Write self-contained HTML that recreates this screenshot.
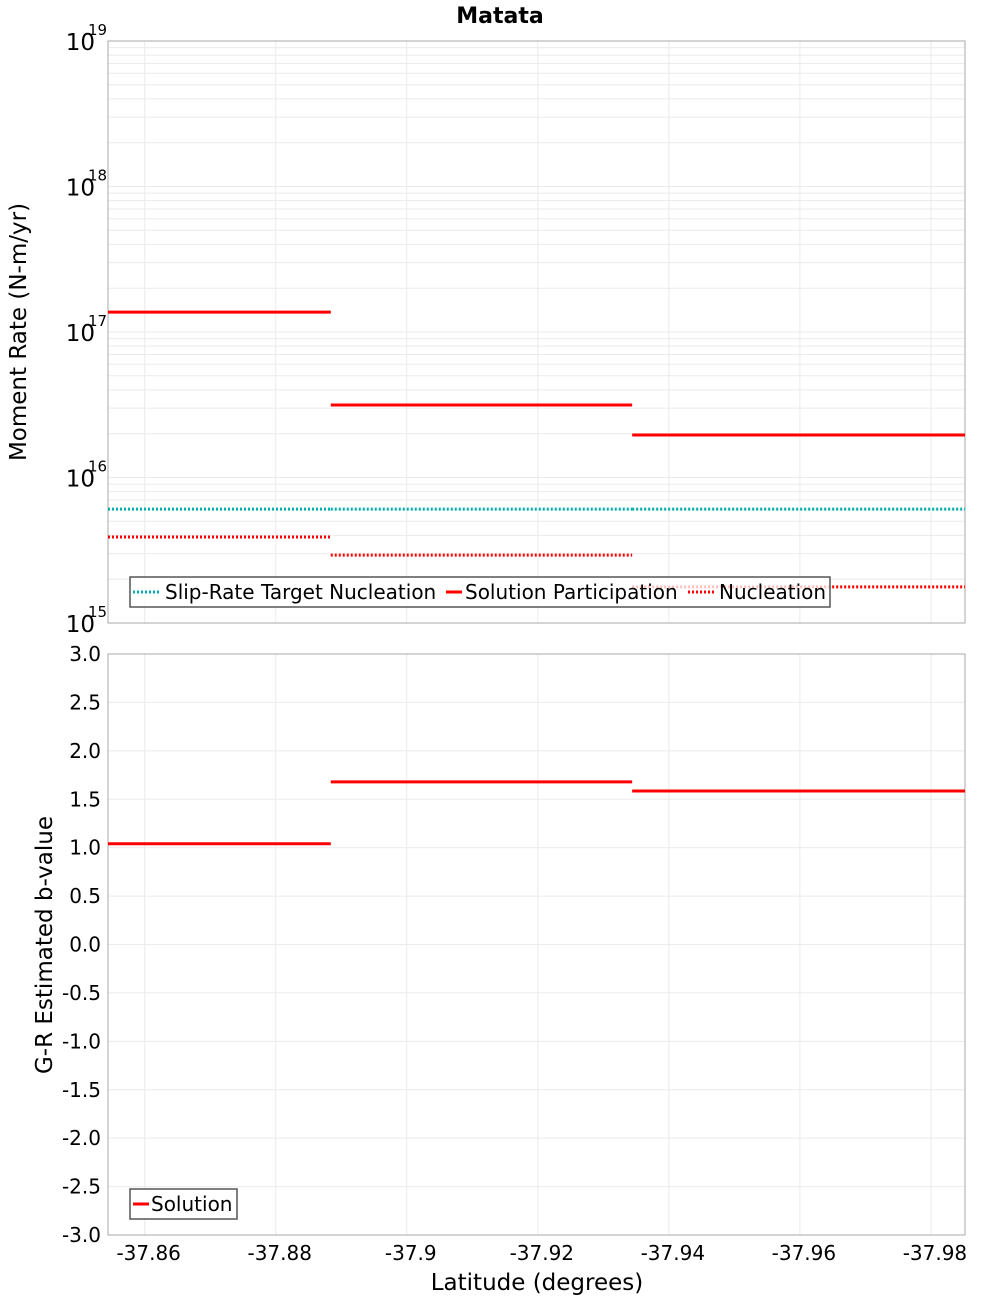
<!DOCTYPE html>
<html><head><meta charset="utf-8"><style>
body{margin:0;background:#fff;}
svg{font-family:"DejaVu Sans","Liberation Sans",sans-serif;}
</style></head><body>
<svg id="c" width="1000" height="1300" xmlns="http://www.w3.org/2000/svg">
<text x="500" y="23" text-anchor="middle" font-size="22" font-weight="bold">Matata</text>
</svg>
<script>
const binEdges = [-37.8544, -37.8884, -37.9344, -37.9852];
const targetNucleation = [6.06e15, 6.06e15, 6.06e15];
const solutionParticipation = [1.37e17, 3.15e16, 1.96e16];
const solutionNucleation = [3.9e15, 2.93e15, 1.77e15];
const bValues = [1.04, 1.68, 1.585];
const xTicks = [-37.86, -37.88, -37.9, -37.92, -37.94, -37.96, -37.98];
const xTickLabels = ["-37.86","-37.88","-37.9","-37.92","-37.94","-37.96","-37.98"];
const bTicks = [3,2.5,2,1.5,1,0.5,0,-0.5,-1,-1.5,-2,-2.5,-3];

const NS="http://www.w3.org/2000/svg";
const svg=document.getElementById('c');
function mk(t,a,name,parent){const e=document.createElementNS(NS,t);for(const k in a)e.setAttribute(k,a[k]);


(parent||svg).appendChild(e);return e;}
const L=108,R=965;
const x0=-37.8544,x1=-37.9852;
const X=v=>L+(v-x0)/(x1-x0)*(R-L);
const T1=41,B1=623,T2=654,B2=1235;
const Y1=v=>B1-(Math.log10(v)-15)/4*(B1-T1);
const Y2=v=>B2-(v+3)/6*(B2-T2);

for(let d=15;d<19;d++){for(let m=1;m<10;m++){const y=Y1(m*Math.pow(10,d));
mk('line',{x1:L,x2:R,y1:y,y2:y,stroke:'#ebebeb','stroke-width':1},'y-grid-line');}}
for(let d=15;d<=19;d++){const y=Y1(Math.pow(10,d));
const t=mk('text',{x:95,y:y+9,'font-size':23,'text-anchor':'end'},'y-tick-label');t.textContent='10';
const s=mk('text',{x:88,y:y-6,'font-size':15},'y-tick-exponent');s.textContent=String(d);}
bTicks.forEach(v=>{const y=Y2(v);mk('line',{x1:L,x2:R,y1:y,y2:y,stroke:'#ebebeb'},'y-grid-line');
const t=mk('text',{x:101,y:y+7,'font-size':20,'text-anchor':'end'},'y-tick-label');t.textContent=v.toFixed(1);});
xTicks.forEach((v,i)=>{const x=X(v);
mk('line',{x1:x,x2:x,y1:T1,y2:B1,stroke:'#ebebeb'},'x-grid-line');
mk('line',{x1:x,x2:x,y1:T2,y2:B2,stroke:'#ebebeb'},'x-grid-line');
const t=mk('text',{x:x+4,y:1260,'font-size':20,'text-anchor':'middle'},'x-tick-label');t.textContent=xTickLabels[i];});
mk('rect',{x:L,y:T1,width:R-L,height:B1-T1,fill:'none',stroke:'#aaa'},'top-plot-frame');
mk('rect',{x:L,y:T2,width:R-L,height:B2-T2,fill:'none',stroke:'#aaa'},'bottom-plot-frame');

function seg(arr,Y,color,dash,name){arr.forEach((v,i)=>{const a={x1:X(binEdges[i]),x2:X(binEdges[i+1]),y1:Y(v),y2:Y(v),stroke:color,'stroke-width':3};
if(dash)a['stroke-dasharray']='2,2';mk('line',a,name);});}
seg(targetNucleation,Y1,'#00b0b0',true,'target-nucleation-line');
seg(solutionParticipation,Y1,'#ff0000',false,'solution-participation-line');
seg(solutionNucleation,Y1,'#ff0000',true,'solution-nucleation-line');
seg(bValues,Y2,'#ff0000',false,'b-value-line');

mk('rect',{x:130,y:577,width:700,height:30,fill:'rgba(255,255,255,0.75)',stroke:'#555','stroke-width':1.5},'legend-box');
mk('line',{x1:133,x2:161,y1:592,y2:592,stroke:'#00b0b0','stroke-width':3,'stroke-dasharray':'2,2'},'legend-swatch');
let t=mk('text',{x:165,y:599,'font-size':20},'legend-entry');t.textContent='Slip-Rate Target Nucleation';
mk('line',{x1:446,x2:462,y1:592,y2:592,stroke:'#ff0000','stroke-width':3},'legend-swatch');
t=mk('text',{x:465,y:599,'font-size':20},'legend-entry');t.textContent='Solution Participation';
mk('line',{x1:688,x2:716,y1:592,y2:592,stroke:'#ff0000','stroke-width':3,'stroke-dasharray':'2,2'},'legend-swatch');
t=mk('text',{x:719,y:599,'font-size':20},'legend-entry');t.textContent='Nucleation';
mk('rect',{x:130,y:1189,width:107,height:30,fill:'#fff',stroke:'#555','stroke-width':1.5},'legend-box');
mk('line',{x1:133,x2:149,y1:1204,y2:1204,stroke:'#ff0000','stroke-width':3},'legend-swatch');
t=mk('text',{x:151,y:1211,'font-size':20},'legend-entry');t.textContent='Solution';

t=mk('text',{x:0,y:0,'font-size':23,'text-anchor':'middle',transform:'translate(26,332) rotate(-90)'},'y-axis-title');t.textContent='Moment Rate (N-m/yr)';
t=mk('text',{x:0,y:0,'font-size':23,'text-anchor':'middle',transform:'translate(52,945) rotate(-90)'},'y-axis-title');t.textContent='G-R Estimated b-value';
t=mk('text',{x:537,y:1290,'font-size':23,'text-anchor':'middle'},'x-axis-title');t.textContent='Latitude (degrees)';
</script>
</body></html>
